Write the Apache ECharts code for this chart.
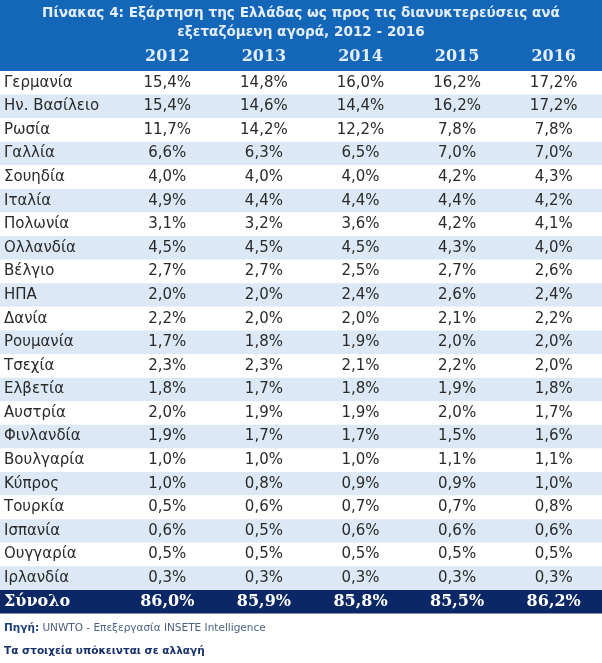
<!DOCTYPE html>
<html lang="el">

<head>
    <meta charset="UTF-8">
    <title>Πίνακας 4</title>
    <script src="https://cdn.jsdelivr.net/npm/echarts@6/dist/echarts.min.js"></script>
    <style>
        html,
        body {
            margin: 0;
            padding: 0;
            height: 100%;
            overflow: hidden;
            background: #fff;
        }

        #table {
            width: 602px;
            height: 663px;
        }
    </style>
</head>

<body>
    <div id="table"></div>
    <script>
        // στοιχεία πίνακα
        var years = ['2012', '2013', '2014', '2015', '2016'];
        var markets = ['Γερμανία', 'Ην. Βασίλειο', 'Ρωσία', 'Γαλλία', 'Σουηδία', 'Ιταλία', 'Πολωνία',
            'Ολλανδία', 'Βέλγιο', 'ΗΠΑ', 'Δανία', 'Ρουμανία', 'Τσεχία', 'Ελβετία', 'Αυστρία',
            'Φινλανδία', 'Βουλγαρία', 'Κύπρος', 'Τουρκία', 'Ισπανία', 'Ουγγαρία', 'Ιρλανδία', 'Σύνολο'];
        var v2012 = [15.4, 15.4, 11.7, 6.6, 4.0, 4.9, 3.1, 4.5, 2.7, 2.0, 2.2, 1.7, 2.3, 1.8, 2.0, 1.9, 1.0, 1.0, 0.5, 0.6, 0.5, 0.3, 86.0];
        var v2013 = [14.8, 14.6, 14.2, 6.3, 4.0, 4.4, 3.2, 4.5, 2.7, 2.0, 2.0, 1.8, 2.3, 1.7, 1.9, 1.7, 1.0, 0.8, 0.6, 0.5, 0.5, 0.3, 85.9];
        var v2014 = [16.0, 14.4, 12.2, 6.5, 4.0, 4.4, 3.6, 4.5, 2.5, 2.4, 2.0, 1.9, 2.1, 1.8, 1.9, 1.7, 1.0, 0.9, 0.7, 0.6, 0.5, 0.3, 85.8];
        var v2015 = [16.2, 16.2, 7.8, 7.0, 4.2, 4.4, 4.2, 4.3, 2.7, 2.6, 2.1, 2.0, 2.2, 1.9, 2.0, 1.5, 1.1, 0.9, 0.7, 0.6, 0.5, 0.3, 85.5];
        var v2016 = [17.2, 17.2, 7.8, 7.0, 4.3, 4.2, 4.1, 4.0, 2.6, 2.4, 2.2, 2.0, 2.0, 1.8, 1.7, 1.6, 1.1, 1.0, 0.8, 0.6, 0.5, 0.3, 86.2];

        var columns = [v2012, v2013, v2014, v2015, v2016];
        var totalRow = markets.length - 1;

        var cells = [];
        columns.forEach(function (col, c) {
            col.forEach(function (v, r) {
                cells.push([c, r, v]);
            });
        });
        var rows = markets.map(function (m, r) {
            return [0, r];
        });

        function fmt(v) {
            return v.toFixed(1).replace('.', ',') + '%';
        }

        var headBlue = '#1466b8';
        var navy = '#0b2766';
        var stripe = '#dce8f5';

        var chart = echarts.init(document.getElementById('table'));
        var option = {
            animation: false,
            title: {
                text: 'Πίνακας 4: Εξάρτηση της Ελλάδας ως προς τις διανυκτερεύσεις ανά\nεξεταζόμενη αγορά, 2012 - 2016',
                left: 'center',
                top: -1,
                textStyle: {
                    fontFamily: 'DejaVu Sans',
                    fontSize: 13.6,
                    fontWeight: 'bold',
                    color: '#e4eefa',
                    lineHeight: 19
                }
            },
            graphic: [{
                type: 'rect',
                z: -10,
                shape: { x: 0, y: 0, width: 602, height: 71 },
                style: { fill: headBlue }
            }, {
                type: 'text',
                left: 4,
                top: 622,
                style: {
                    text: '{b|Πηγή:} {n|UNWTO - Επεξεργασία INSETE Intelligence}',
                    rich: {
                        b: { fontFamily: 'DejaVu Sans', fontSize: 10.5, fontWeight: 'bold', fill: '#1d3f7a' },
                        n: { fontFamily: 'DejaVu Sans', fontSize: 10.5, fill: '#4c5f7e' }
                    }
                }
            }, {
                type: 'text',
                left: 4,
                top: 646,
                style: {
                    text: 'Τα στοιχεία υπόκεινται σε αλλαγή',
                    fontFamily: 'DejaVu Sans',
                    fontSize: 10.5,
                    fontWeight: 'bold',
                    fill: '#16306a'
                }
            }],
            grid: {
                left: 119,
                right: 0,
                top: 71,
                bottom: 49.5
            },
            xAxis: {
                type: 'category',
                position: 'top',
                data: years,
                axisLine: { show: false },
                axisTick: { show: false },
                splitLine: { show: false },
                axisLabel: {
                    margin: 14,
                    verticalAlign: 'middle',
                    fontFamily: 'DejaVu Serif',
                    fontWeight: 'bold',
                    fontSize: 16,
                    color: '#e2eefa'
                }
            },
            yAxis: {
                type: 'category',
                inverse: true,
                z: 5,
                data: markets,
                axisLine: { show: false },
                axisTick: { show: false },
                splitLine: { show: false },
                axisLabel: {
                    interval: 0,
                    align: 'left',
                    margin: 115,
                    formatter: function (name, i) {
                        return i === totalRow ? '{t|' + name + '}' : '{n|' + name + '}';
                    },
                    rich: {
                        n: { fontFamily: 'DejaVu Sans', fontSize: 15, color: '#2a2a2a' },
                        t: { fontFamily: 'DejaVu Serif', fontSize: 16, fontWeight: 'bold', color: '#ffffff' }
                    }
                }
            },
            series: [{
                // λωρίδες γραμμών
                type: 'custom',
                z: 1,
                clip: false,
                silent: true,
                data: rows,
                encode: { x: 0, y: 1 },
                renderItem: function (params, api) {
                    var r = api.value(1);
                    var p = api.coord([0, r]);
                    var h = api.size([0, 1])[1];
                    var fill = r === totalRow ? navy : (r % 2 === 1 ? stripe : '#ffffff');
                    return {
                        type: 'rect',
                        shape: { x: 0, y: p[1] - h / 2, width: api.getWidth(), height: h },
                        style: { fill: fill }
                    };
                }
            }, {
                // τιμές κελιών
                type: 'custom',
                z: 3,
                silent: true,
                data: cells,
                encode: { x: 0, y: 1 },
                renderItem: function (params, api) {
                    var c = api.value(0);
                    var r = api.value(1);
                    var p = api.coord([c, r]);
                    var tot = r === totalRow;
                    return {
                        type: 'text',
                        x: p[0],
                        y: p[1],
                        style: {
                            text: fmt(api.value(2)),
                            align: 'center',
                            verticalAlign: 'middle',
                            fontFamily: tot ? 'DejaVu Serif' : 'DejaVu Sans',
                            fontWeight: tot ? 'bold' : 'normal',
                            fontSize: tot ? 16 : 15,
                            fill: tot ? '#ffffff' : '#2a2a2a'
                        }
                    };
                }
            }]
        };
        chart.setOption(option);
    </script>
</body>

</html>
